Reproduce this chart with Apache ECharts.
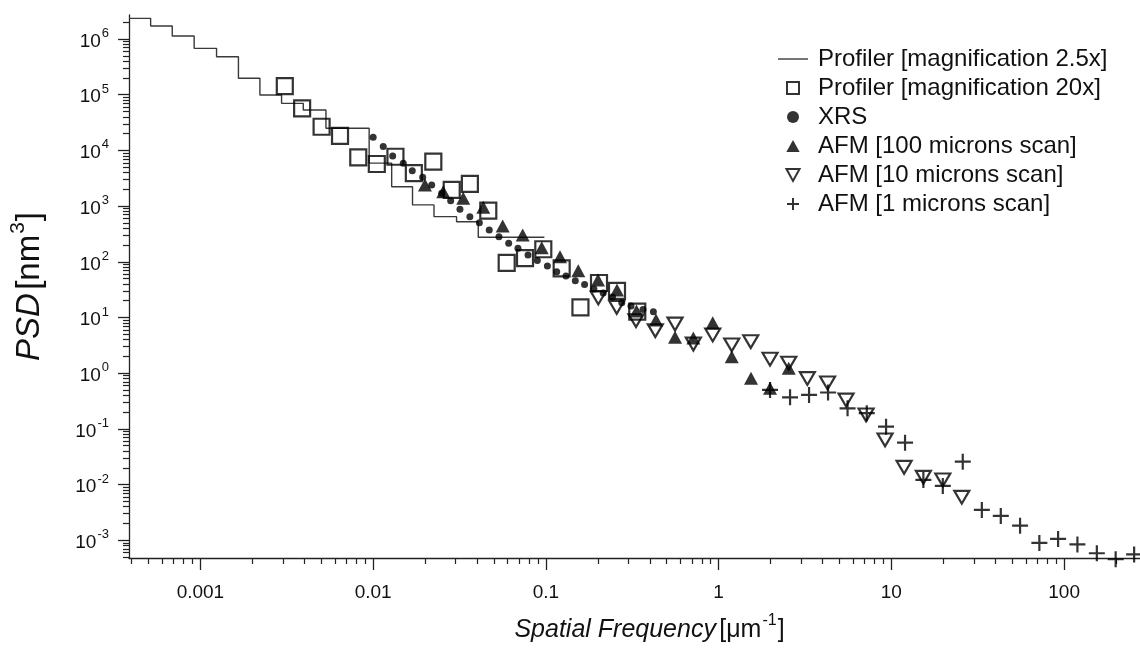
<!DOCTYPE html>
<html><head><meta charset="utf-8">
<script src="https://cdn.jsdelivr.net/npm/echarts@6/dist/echarts.min.js"></script>
<style>html,body{margin:0;padding:0;background:#fff}#c{width:1140px;height:648px}</style>
</head><body><div id="c"></div>
<script>
// ---- tick values / labels ----
const xMajorTicks = [0.001, 0.01, 0.1, 1, 10, 100];
const xTickLabels = ['0.001', '0.01', '0.1', '1', '10', '100'];
const yMajorTicks = [1e-3, 1e-2, 1e-1, 1, 10, 100, 1e3, 1e4, 1e5, 1e6];
const yTickExponents = [-3, -2, -1, 0, 1, 2, 3, 4, 5, 6];

// ---- series names ----
const seriesNames = [
  'Profiler [magnification 2.5x]',
  'Profiler [magnification 20x]',
  'XRS',
  'AFM [100 microns scan]',
  'AFM [10 microns scan]',
  'AFM [1 microns scan]'
];

// ---- data: [spatial frequency (1/um), PSD (nm^3)] ----
const profiler25x = [
  [0.000386, 2.35e6], [0.000515, 1.71e6], [0.000687, 1.13e6], [0.00092, 6.8e5],
  [0.00124, 4.8e5], [0.00166, 1.97e5], [0.00221, 9.9e4], [0.00295, 7.0e4],
  [0.00394, 5.3e4], [0.00533, 2.5e4], [0.00711, 2.5e4], [0.00948, 5.9e3],
  [0.0128, 2.23e3], [0.0169, 1.05e3], [0.0225, 646], [0.0304, 525],
  [0.0406, 275], [0.0541, 275], [0.0722, 275], [0.098, 275]
];
const profiler20x = [
  [0.00308, 1.43e5], [0.00388, 5.7e4], [0.00503, 2.66e4], [0.00643, 1.82e4],
  [0.0082, 7.5e3], [0.0105, 5.7e3], [0.01346, 7.7e3], [0.0172, 3.9e3],
  [0.0223, 6.3e3], [0.0285, 1.95e3], [0.0363, 2.5e3], [0.0464, 826],
  [0.0593, 96], [0.0757, 116], [0.0966, 168], [0.1234, 76],
  [0.1585, 15.2], [0.203, 41.6], [0.258, 30], [0.338, 12.7]
];
const xrs = [
  [0.0100, 1.72e4], [0.01144, 1.17e4], [0.01297, 7.9e3], [0.01494, 5.9e3],
  [0.01684, 4.3e3], [0.01935, 3.3e3], [0.02182, 2.39e3], [0.02492, 1.70e3],
  [0.0281, 1.25e3], [0.0318, 876], [0.0363, 645], [0.0412, 504],
  [0.0470, 372], [0.0535, 282], [0.0609, 215], [0.0689, 175],
  [0.0788, 132], [0.0892, 105], [0.102, 84], [0.1155, 66],
  [0.1307, 55.6], [0.148, 45.8], [0.1675, 39.1], [0.1896, 32.5],
  [0.2147, 27.5], [0.243, 23.3], [0.275, 18.4], [0.311, 16.1],
  [0.365, 13.9], [0.419, 12.7]
];
const afm100 = [
  [0.01995, 2.39e3], [0.02545, 1.81e3], [0.03323, 1.38e3], [0.0434, 952],
  [0.05622, 439], [0.07339, 303], [0.09456, 179], [0.1207, 123],
  [0.154, 69.2], [0.2003, 47.1], [0.258, 31.2], [0.3346, 13.1],
  [0.434, 9.0], [0.5593, 4.41], [0.7139, 4.29], [0.9243, 8.07],
  [1.191, 1.98], [1.54, 0.81], [1.984, 0.536], [2.546, 1.22]
];
const afm10 = [
  [0.2011, 22.4], [0.257, 15.2], [0.3324, 8.76], [0.43, 5.79],
  [0.5593, 7.64], [0.7139, 3.34], [0.9243, 4.85], [1.191, 3.21],
  [1.534, 3.68], [1.984, 1.78], [2.546, 1.51], [3.263, 0.803],
  [4.272, 0.667], [5.467, 0.33], [7.137, 0.178], [9.195, 0.0632],
  [11.85, 0.0204], [15.32, 0.01352], [19.85, 0.01209], [25.56, 0.00592]
];
const afm1 = [
  [1.984, 0.5], [2.591, 0.369], [3.338, 0.406], [4.3, 0.45],
  [5.577, 0.234], [7.204, 0.191], [9.318, 0.1095], [12.0, 0.0565],
  [15.32, 0.0121], [19.85, 0.00944], [25.9, 0.0258], [33.4, 0.0035],
  [43.0, 0.00273], [55.6, 0.00183], [71.9, 0.000894], [92.3, 0.001055],
  [119.4, 0.000841], [154.7, 0.000584], [198.8, 0.000456], [254.3, 0.000556]
];

// ---- axis ranges ----
const X_MIN = 0.000386, X_MAX = 275;
const Y_MIN = 4.8e-4, Y_MAX = 2.7e6;

function minorTicks(lo, hi) {
  const out = [];
  for (let d = -6; d <= 7; d++) {
    for (let m = 2; m <= 9; m++) {
      const v = m * Math.pow(10, d);
      if (v >= lo && v <= hi) out.push(v);
    }
  }
  return out;
}
function idxOf(arr, v) {
  return arr.findIndex(t => Math.abs(Math.log10(t) - Math.log10(v)) < 1e-6);
}

const FONT = '"Liberation Sans", Arial, Helvetica, sans-serif';
const AX = '#222';
const SYM_SQUARE = 'path://M0,0H10V10H0Z';
const SYM_TRI = 'path://M5,0L10,9H0Z';
const SYM_TRI_DOWN = 'path://M0,0L12,0L6,11Z';
const SYM_PLUS = 'path://M0,6H12M6,0V12';
const SYM_LINE = 'path://M0,0H30V1.4H0Z';
const legendIcons = [SYM_LINE, SYM_SQUARE, 'circle', SYM_TRI, SYM_TRI_DOWN, SYM_PLUS];

const chart = echarts.init(document.getElementById('c'), null, {renderer: 'canvas'});
const hollow = {color: 'transparent', borderColor: '#000', borderWidth: 2.2};

chart.setOption({
  animation: false,
  backgroundColor: '#fff',
  textStyle: {fontFamily: FONT},
  grid: {left: 129, right: 0, top: 15, bottom: 90},
  legend: {
    orient: 'vertical', left: 773, top: 42,
    itemWidth: 30, itemHeight: 12, itemGap: 5, symbolKeepAspect: true,
    textStyle: {fontSize: 24, color: '#111', fontFamily: FONT, lineHeight: 24, padding: [0, 0, 0, 5]},
    data: seriesNames.map((n, i) => ({name: n, icon: legendIcons[i]}))
  },
  xAxis: [{
    type: 'log', logBase: 10, min: X_MIN, max: X_MAX, position: 'bottom',
    axisLine: {show: true, onZero: false, lineStyle: {color: AX, width: 1.3}},
    axisTick: {show: true, customValues: xMajorTicks, length: 12, lineStyle: {color: AX, width: 1.3}},
    axisLabel: {
      customValues: xMajorTicks, margin: 25, fontSize: 19, color: '#111', fontFamily: FONT,
      formatter: v => { const i = idxOf(xMajorTicks, v); return i >= 0 ? xTickLabels[i] : ''; }
    },
    splitLine: {show: false},
    name: '{i|Spatial Frequency} {n|[\u03bcm}{s|-1}{n|]}',
    nameLocation: 'middle', nameGap: 55,
    nameTextStyle: {
      padding: [0, 0, 0, 30],
      rich: {
        i: {fontSize: 25, fontStyle: 'italic', color: '#111', fontFamily: FONT, verticalAlign: 'bottom'},
        n: {fontSize: 25, color: '#111', fontFamily: FONT, verticalAlign: 'bottom'},
        s: {fontSize: 16, color: '#111', fontFamily: FONT, verticalAlign: 'bottom', padding: [0, 1, 14, 1]}
      }
    }
  }, {
    type: 'log', logBase: 10, min: X_MIN, max: X_MAX, position: 'bottom',
    axisLine: {show: false, onZero: false},
    axisTick: {show: true, customValues: minorTicks(X_MIN, X_MAX), length: 6, lineStyle: {color: AX, width: 1.2}},
    axisLabel: {show: false},
    splitLine: {show: false}
  }],
  yAxis: [{
    type: 'log', logBase: 10, min: Y_MIN, max: Y_MAX, position: 'left',
    axisLine: {show: true, onZero: false, lineStyle: {color: AX, width: 1.3}},
    axisTick: {show: true, customValues: yMajorTicks, length: 11, lineStyle: {color: AX, width: 1.3}},
    axisLabel: {
      customValues: yMajorTicks, margin: 20, color: '#111', fontFamily: FONT,
      formatter: v => { const i = idxOf(yMajorTicks, v); return i >= 0 ? '{b|10}{s|' + yTickExponents[i] + '}' : ''; },
      rich: {
        b: {fontSize: 19, color: '#111', fontFamily: FONT, verticalAlign: 'bottom'},
        s: {fontSize: 13, color: '#111', fontFamily: FONT, verticalAlign: 'bottom', padding: [0, 0, 11, 1]}
      }
    },
    splitLine: {show: false},
    name: '{i|PSD} {n|[nm}{s|3}{n|]}',
    nameLocation: 'middle', nameGap: 83, nameRotate: 90,
    nameTextStyle: {
      rich: {
        i: {fontSize: 33, fontStyle: 'italic', color: '#111', fontFamily: FONT, verticalAlign: 'bottom'},
        n: {fontSize: 33, color: '#111', fontFamily: FONT, verticalAlign: 'bottom'},
        s: {fontSize: 21, color: '#111', fontFamily: FONT, verticalAlign: 'bottom', padding: [0, 1, 17, 1]}
      }
    }
  }, {
    type: 'log', logBase: 10, min: Y_MIN, max: Y_MAX, position: 'left',
    axisLine: {show: false, onZero: false},
    axisTick: {show: true, customValues: minorTicks(Y_MIN, Y_MAX), length: 6, lineStyle: {color: AX, width: 1.2}},
    axisLabel: {show: false},
    splitLine: {show: false}
  }],
  series: [
    {
      name: seriesNames[0], type: 'line', step: 'end', data: profiler25x,
      symbol: 'none', showSymbol: false, clip: false,
      lineStyle: {color: '#3a3a3a', width: 1.4}, itemStyle: {color: '#3a3a3a'}, z: 1
    },
    {
      name: seriesNames[1], type: 'scatter', data: profiler20x, clip: false,
      symbol: SYM_SQUARE, symbolSize: 16, itemStyle: hollow, z: 3
    },
    {
      name: seriesNames[2], type: 'scatter', data: xrs, clip: false,
      symbol: 'circle', symbolSize: 7, itemStyle: {color: '#000'}, z: 4
    },
    {
      name: seriesNames[3], type: 'scatter', data: afm100, clip: false,
      symbol: SYM_TRI, symbolSize: [14, 13], itemStyle: {color: '#000'}, z: 4
    },
    {
      name: seriesNames[4], type: 'scatter', data: afm10, clip: false,
      symbol: SYM_TRI_DOWN, symbolSize: [15, 14], symbolKeepAspect: true,
      itemStyle: hollow, z: 3
    },
    {
      name: seriesNames[5], type: 'scatter', data: afm1, clip: false,
      symbol: SYM_PLUS, symbolSize: 16, symbolKeepAspect: true,
      itemStyle: hollow, z: 3
    }
  ]
});
</script>
</body></html>
